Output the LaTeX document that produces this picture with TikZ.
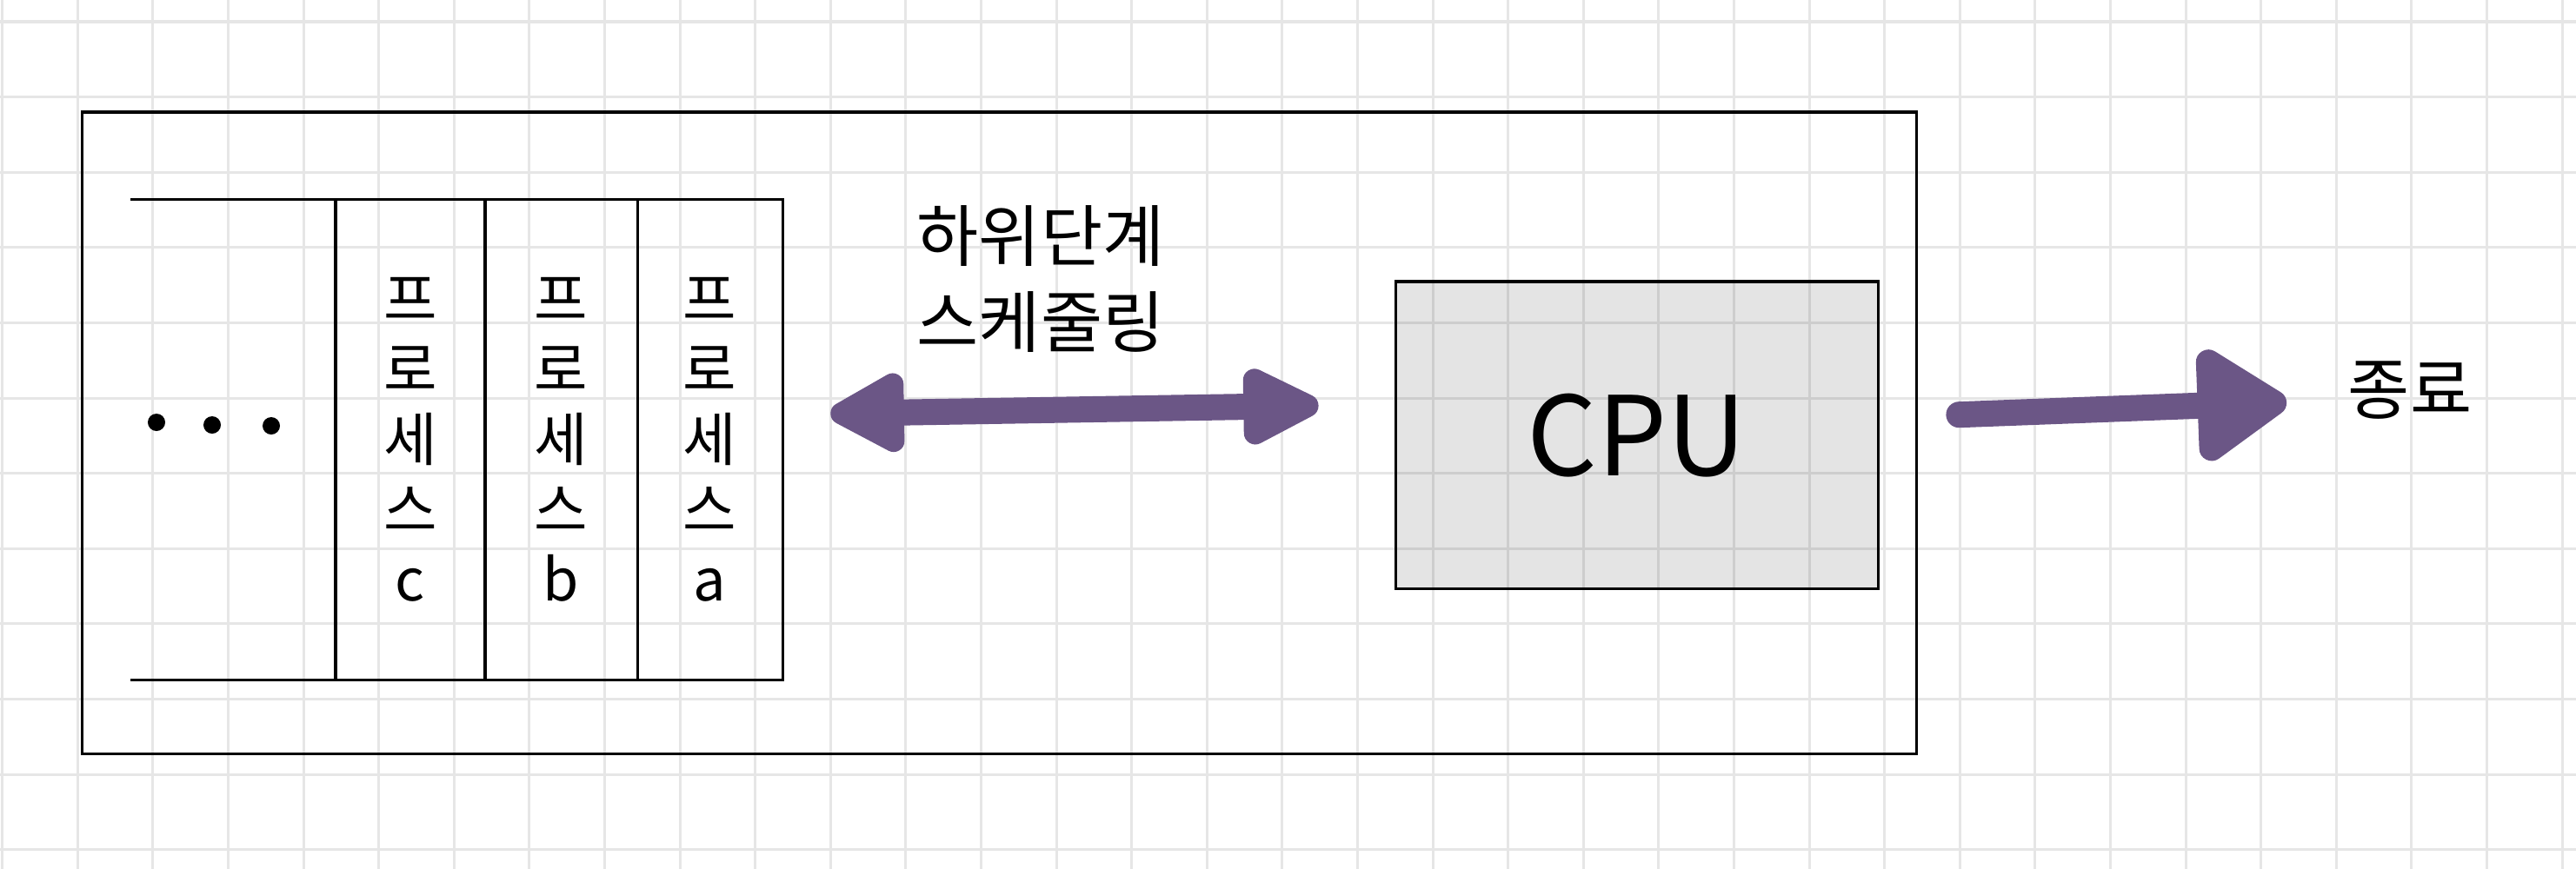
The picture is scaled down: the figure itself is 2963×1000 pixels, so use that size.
\documentclass[tikz,border=0pt]{standalone}
\usepackage{fontspec}
\setmainfont{Noto Sans CJK KR}
\usetikzlibrary{arrows.meta,positioning}
\definecolor{gridgray}{HTML}{E6E6E6}
\definecolor{penpurple}{HTML}{6B5686}

\begin{document}
\begin{tikzpicture}[x=0.01cm,y=-0.01cm,
    gridline/.style={gridgray, line width=0.03cm},
    slot/.style={draw, line width=0.9pt, outer sep=0pt, inner sep=0pt, minimum height=5.52cm, align=center, font=\fontsize{19}{23}\selectfont},
    dot/.style={fill, circle, inner sep=0pt, minimum size=0.2cm},
    penarrow/.style={penpurple, line width=0.3cm, line cap=round},
    hand/.style={font=\fontsize{22}{28}\selectfont, inner sep=0pt}]
  \useasboundingbox (0,0) rectangle (2963,1000);
  % grid paper
  \foreach \i in {0,...,34}
    \draw[gridline] (2.7+86.6*\i,0) -- (2.7+86.6*\i,1000);
  \foreach \j in {0,...,11}
    \draw[gridline] (0,25+86.6*\j) -- (2963,25+86.6*\j);

  \node (sys) [draw, line width=0.9pt, minimum width=21.09cm, minimum height=7.38cm] at (1149.7,498.2) {};

  % ready queue
  \node (pc) [slot, minimum width=1.72cm] at (472,506) {프\\로\\세\\스\\c};
  \node (pb) [slot, minimum width=1.75cm, right=0pt of pc] {프\\로\\세\\스\\b};
  \node (pa) [slot, minimum width=1.67cm, right=0pt of pb] {프\\로\\세\\스\\a};
  \draw[line width=0.9pt] (pc.north west) -- ++(-236,0);
  \draw[line width=0.9pt] (pc.south west) -- ++(-236,0);
  \node (d1) [dot] at (180,486) {};
  \node (d2) [dot] at (244,489) {};
  \node (d3) [dot] at (312,490) {};

  \node (cpu) [draw, line width=1pt, fill=black, fill opacity=0.105, text opacity=1, minimum width=5.55cm, minimum height=3.53cm, font=\fontsize{36}{40}\selectfont] at (1883,500.7) {CPU};

  % scheduler arrow
  \coordinate (ql) at ([shift={(55,-30)}]pa.east);
  \coordinate (cr) at ([shift={(-87,-34)}]cpu.west);
  \draw[penarrow, {Triangle[round,length=1.0cm,width=1.0cm]}-{Triangle[round,length=1.05cm,width=0.95cm]}] (ql) -- (cr);
  \node (sched) [hand, align=left, anchor=north west] at (1054,236) {하위단계\\스케줄링};

  % exit
  \coordinate (xs) at ([shift={(47,-21)}]sys.east);
  \node (done) [hand] at (2772,449) {종료};
  \coordinate (xe) at ([shift={(-70,14)}]done.west);
  \draw[penarrow, -{Triangle[round,length=1.15cm,width=1.45cm]}] (xs) -- (xe);
\end{tikzpicture}
\end{document}
